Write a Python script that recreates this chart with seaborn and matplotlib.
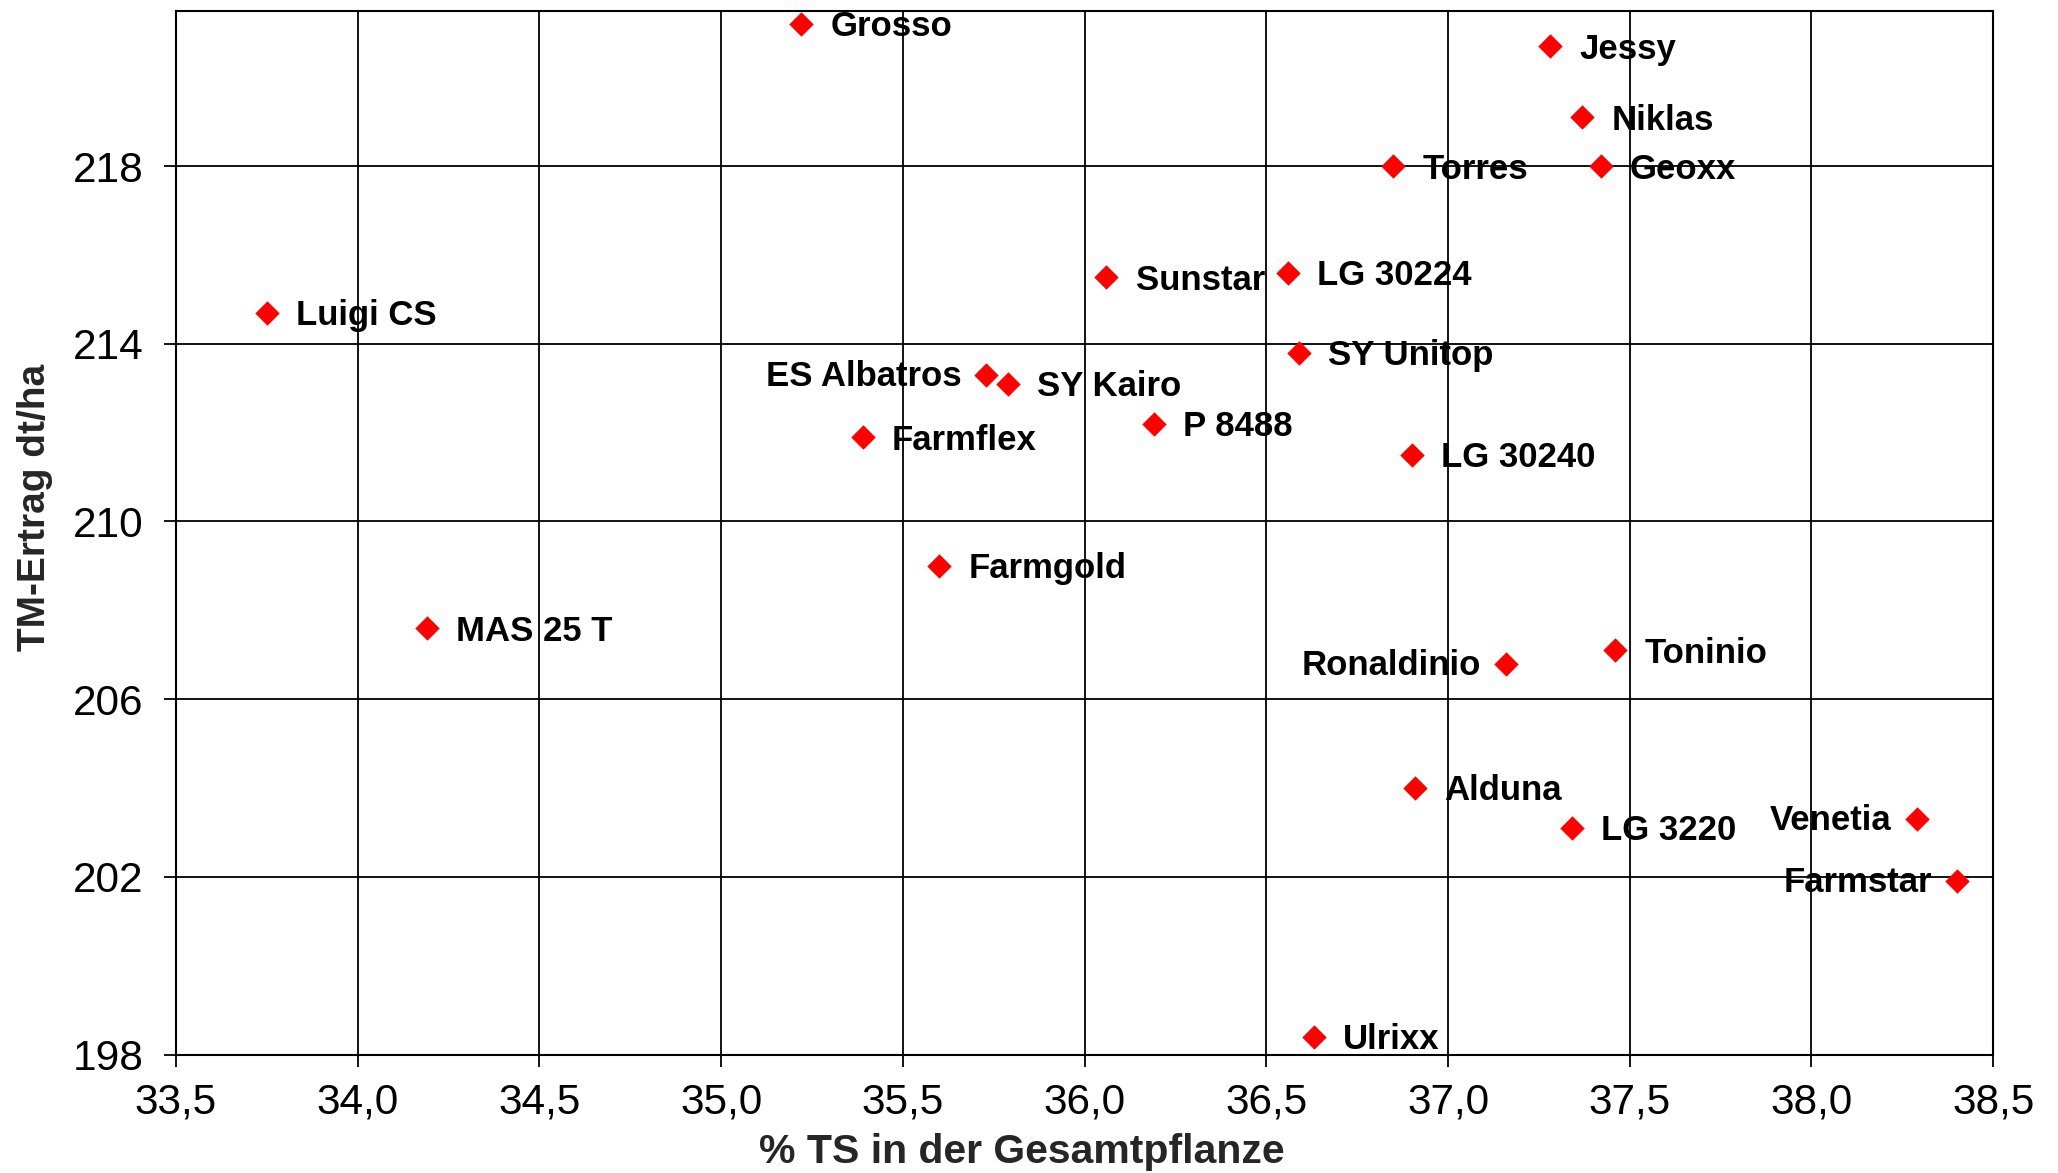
import pandas as pd
import matplotlib.pyplot as plt
import seaborn as sns

# Sorten, % TS in der Gesamtpflanze, TM-Ertrag (dt/ha)
sorten = ['Grosso', 'Jessy', 'Niklas', 'Torres', 'Geoxx', 'Sunstar', 'LG 30224',
          'Luigi CS', 'SY Unitop', 'ES Albatros', 'SY Kairo', 'P 8488', 'Farmflex',
          'LG 30240', 'Farmgold', 'MAS 25 T', 'Toninio', 'Ronaldinio', 'Alduna',
          'LG 3220', 'Venetia', 'Farmstar', 'Ulrixx']
ts_gehalt = [35.22, 37.28, 37.37, 36.85, 37.42, 36.06, 36.56,
             33.75, 36.59, 35.73, 35.79, 36.19, 35.39,
             36.90, 35.60, 34.19, 37.46, 37.16, 36.91,
             37.34, 38.29, 38.40, 36.63]
tm_ertrag = [221.2, 220.7, 219.1, 218.0, 218.0, 215.5, 215.6,
             214.7, 213.8, 213.3, 213.1, 212.2, 211.9,
             211.5, 209.0, 207.6, 207.1, 206.8, 204.0,
             203.1, 203.3, 201.9, 198.4]

x_ticks = [33.5, 34.0, 34.5, 35.0, 35.5, 36.0, 36.5, 37.0, 37.5, 38.0, 38.5]
y_ticks = [198, 202, 206, 210, 214, 218]

# labels drawn on the left side of the marker
links = {'ES Albatros', 'Ronaldinio', 'Venetia', 'Farmstar'}

df = pd.DataFrame({'Sorte': sorten, 'TS': ts_gehalt, 'Ertrag': tm_ertrag})

sns.set_theme(style='white')
plt.rcParams['font.family'] = ['Liberation Sans', 'DejaVu Sans']

fig = plt.figure(figsize=(20.58, 11.73), dpi=100)
ax = fig.add_axes([0.0855, 0.101, 0.883, 0.89])

sns.scatterplot(data=df, x='TS', y='Ertrag', marker='D', color='#ff0000',
                s=155, linewidth=0, ax=ax, zorder=3)

for name, xv, yv in zip(df['Sorte'], df['TS'], df['Ertrag']):
    if name in links:
        ax.annotate(name, (xv, yv), xytext=(-18, -8), textcoords='offset points',
                    ha='right', va='baseline', fontsize=25, fontweight='bold', color='black')
    else:
        ax.annotate(name, (xv, yv), xytext=(21, -9), textcoords='offset points',
                    ha='left', va='baseline', fontsize=25, fontweight='bold', color='black')

ax.set_xlim(33.5, 38.5)
ax.set_ylim(198, 221.5)
ax.set_xticks(x_ticks)
ax.set_xticklabels([f'{v:.1f}'.replace('.', ',') for v in x_ticks])
ax.set_yticks(y_ticks)
ax.set_yticklabels([str(v) for v in y_ticks])
ax.grid(True, color='black', linewidth=1.3)
ax.set_axisbelow(True)
for sp in ax.spines.values():
    sp.set_color('black')
    sp.set_linewidth(1.5)
ax.tick_params(axis='both', direction='out', length=8.5, width=1.3, color='black',
               labelsize=30.5, labelcolor='black', bottom=True, left=True)
ax.tick_params(axis='y', pad=15)
ax.tick_params(axis='x', pad=12)

ax.set_xlabel('% TS in der Gesamtpflanze', fontsize=29.5, fontweight='bold', va='center')
ax.set_ylabel('TM-Ertrag dt/ha', fontsize=28, fontweight='bold', va='center')
ax.xaxis.set_label_coords(0.4656, -0.0934)
ax.yaxis.set_label_coords(-0.0776, 0.5244)

fig.savefig('out.png', dpi=100, facecolor='white')
